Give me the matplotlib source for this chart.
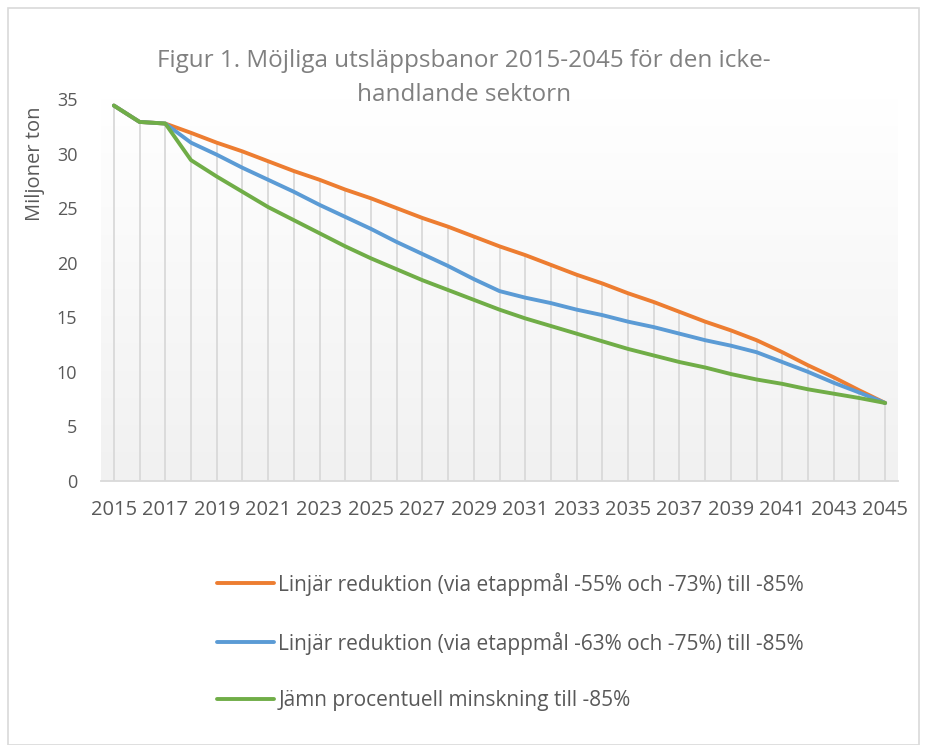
import numpy as np
import matplotlib.pyplot as plt
from matplotlib.patches import Rectangle

plt.rcParams['font.family'] = ['Open Sans', 'DejaVu Sans']

years = list(range(2015, 2046))
linjar_55_73 = [34.4, 32.9, 32.75, 31.9, 31.0, 30.2, 29.3, 28.4, 27.6, 26.7, 25.9, 25.0,
                24.1, 23.3, 22.4, 21.5, 20.7, 19.8, 18.9, 18.1, 17.2, 16.4, 15.5, 14.6,
                13.8, 12.9, 11.8, 10.6, 9.5, 8.3, 7.15]
linjar_63_75 = [34.4, 32.9, 32.75, 31.0, 29.9, 28.7, 27.6, 26.5, 25.3, 24.2, 23.1, 21.9,
                20.8, 19.7, 18.5, 17.4, 16.8, 16.3, 15.7, 15.2, 14.6, 14.1, 13.5, 12.9,
                12.4, 11.8, 10.9, 10.0, 9.0, 8.1, 7.15]
jamn = [34.4, 32.9, 32.75, 29.4, 27.9, 26.5, 25.1, 23.9, 22.7, 21.5, 20.4, 19.4,
        18.4, 17.5, 16.6, 15.7, 14.9, 14.2, 13.5, 12.8, 12.1, 11.5, 10.9, 10.4,
        9.8, 9.3, 8.9, 8.4, 8.0, 7.6, 7.15]

labels = ['Linjär reduktion (via etappmål -55% och -73%) till -85%',
          'Linjär reduktion (via etappmål -63% och -75%) till -85%',
          'Jämn procentuell minskning till -85%']
colors = ['#ED7D31', '#5B9BD5', '#70AD47']
txt = '#595959'

fig = plt.figure(figsize=(9.25, 7.45), dpi=100)
ax = fig.add_axes([101/925, 1 - 481/745, (898 - 101)/925, (481 - 99)/745])

x = np.arange(len(years))
series = [linjar_55_73, linjar_63_75, jamn]

# gradient plot area background
grad = np.linspace(1.0, 0.945, 256).reshape(-1, 1)
ax.imshow(np.dstack([grad, grad, grad]), extent=[0, 1, 0, 1], transform=ax.transAxes,
          aspect='auto', zorder=0)

# drop lines
top = np.max(np.array(series), axis=0)
ax.vlines(x, 0, top, color='#d9d9d9', lw=1.3, zorder=1)

for s, c, lab in zip(series, colors, labels):
    ax.plot(x, s, color=c, lw=2.8, label=lab, zorder=2, solid_capstyle='round')

ax.set_xlim(-0.5, len(years) - 0.5)
ax.set_ylim(0, 35)
ax.set_xticks(x[::2])
ax.set_xticklabels([str(y) for y in years[::2]], fontsize=14.5, color=txt)
ax.set_yticks(range(0, 36, 5))
ax.tick_params(axis='y', labelsize=13, labelcolor=txt, length=0, pad=17)
ax.tick_params(axis='x', length=0, pad=14)
for side in ['top', 'right', 'left']:
    ax.spines[side].set_visible(False)
ax.spines['bottom'].set_color('#d9d9d9')
ax.spines['bottom'].set_linewidth(1.3)

fig.text(35/925, 1 - 164/745, 'Miljoner ton', rotation=90, ha='center', va='center',
         fontsize=14.5, color=txt)
fig.text(464/925, 1 - 78/745, 'Figur 1. Möjliga utsläppsbanor 2015-2045 för den icke-\nhandlande sektorn',
         ha='center', va='center', fontsize=17.5, color='#808080', linespacing=1.6)

fig.legend(loc='upper left', bbox_to_anchor=(198/925, 1 - 554/745), frameon=False,
           fontsize=15, labelcolor=txt, handlelength=2.75, handletextpad=0.2,
           labelspacing=1.72)

fig.patches.append(Rectangle((8/925, 0.0), 911/925, 1 - 8/745, transform=fig.transFigure,
                             fill=False, edgecolor='#d9d9d9', lw=1.2))

fig.savefig('out.png', dpi=100)
